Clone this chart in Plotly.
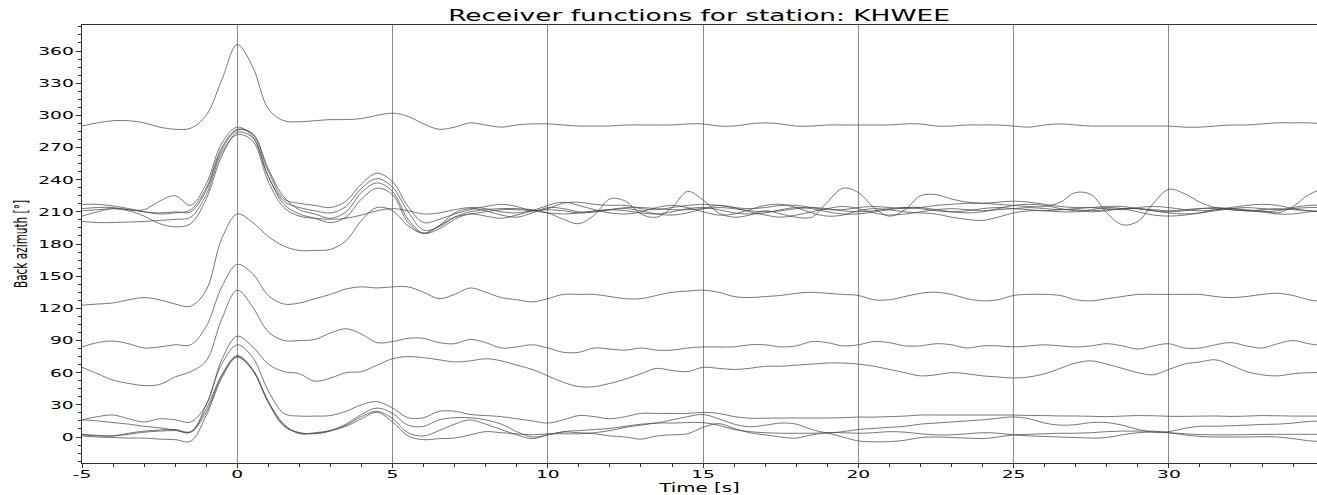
import numpy as np
import plotly.graph_objects as go

# time axis (s), 0.5 s sampling
time_s = np.arange(-5.0, 35.01, 0.5)

# plotted trace values (back azimuth baseline + receiver-function amplitude)
rf_292 = [290, 293, 295, 295, 293, 289, 287, 288,
          300, 333, 366, 345, 306, 295,
          294, 295, 296, 296, 297, 300,
          302, 299, 292, 287, 289, 293, 291, 289, 291, 292,
          292, 291, 290, 290, 290, 291, 291, 291, 291, 292,
          292, 290, 290, 292, 293, 292, 290, 290, 291, 291,
          291, 291, 291, 292, 292, 290, 290, 291, 291, 291,
          290, 289, 291, 292, 291, 290, 290, 290, 290, 290,
          290, 289, 289, 290, 291, 291, 292, 293, 293, 293,
          292]
rf_217 = [217, 217, 215.5, 213, 210, 208, 209, 212,
          232, 270, 287, 282, 248, 222,
          218, 216, 214, 220, 236, 246,
          238, 215, 200, 203, 208, 212, 215, 217, 215, 211,
          213, 218, 219, 217, 216, 216, 213, 212, 214, 216,
          217, 216, 214, 213, 214, 216, 216, 214, 212, 212,
          214, 215, 214, 213, 214, 216, 217, 218, 218, 219,
          220, 219, 217, 215, 214, 214, 213, 212, 214, 215,
          214, 212, 211, 212, 214, 216, 217, 216, 213, 211,
          210]
rf_213 = [213, 214, 214, 212, 212, 220, 225, 216,
          236, 274, 289, 280, 243, 220,
          214, 211, 209, 215, 232, 241,
          233, 210, 193, 196, 205, 210, 212, 213, 213, 212,
          209, 203, 199, 207, 222, 220, 208, 205, 214, 229,
          221, 209, 205, 207, 211, 208, 205, 205, 219, 232,
          228, 214, 206, 212, 225, 226, 222, 219, 218, 217,
          216, 215, 215, 219, 228, 226, 209, 198, 201, 218,
          231, 227, 219, 214, 212, 211, 211, 209, 215, 226,
          232]
rf_211 = [211, 212, 213, 212, 210, 209, 210, 210,
          230, 268, 286, 283, 250, 224,
          212, 208, 204, 210, 228, 237,
          229, 203, 190, 194, 203, 208, 206, 204, 207, 211,
          216, 219, 216, 212, 209, 208, 210, 214, 216, 214,
          210, 207, 208, 212, 216, 217, 214, 209, 206, 207,
          211, 213, 212, 210, 209, 208, 205, 203, 202, 205,
          209, 211, 211, 210, 210, 212, 214, 213, 210, 207,
          206, 207, 209, 212, 213, 212, 210, 208, 208, 210,
          211]
rf_206 = [206, 210, 213, 211, 206, 199, 196, 199,
          222, 262, 284, 279, 243, 217,
          208, 204, 200, 205, 222, 232,
          226, 200, 190, 197, 209, 213, 211, 207, 205, 209,
          214, 213, 210, 210, 212, 213, 211, 208, 207, 209,
          213, 216, 214, 210, 207, 205, 207, 210, 213, 215,
          213, 209, 207, 208, 210, 212, 213, 212, 211, 212,
          213, 214, 213, 212, 213, 214, 215, 215, 213, 211,
          209, 208, 209, 211, 213, 214, 213, 212, 213, 214,
          214]
rf_201 = [201, 200, 200, 200.5, 201, 202, 203, 205,
          226, 265, 282, 276, 238, 214,
          206, 204, 203, 204, 207, 211,
          213, 211, 208, 209, 212, 214, 213, 210, 209, 211,
          212, 211, 209, 210, 212, 214, 214, 213, 212, 212,
          213, 214, 213, 211, 210, 211, 213, 214, 213, 211,
          210, 211, 213, 214, 213, 211, 210, 211, 213, 214,
          213, 212, 211, 212, 212, 211, 212, 213, 213, 212,
          211, 212, 213, 213, 212, 211, 212, 213, 212, 211,
          210]
rf_124 = [123, 124, 125, 128, 130, 128, 124, 122,
          137, 185, 208, 200, 187, 178,
          174, 174, 175, 183, 202, 214,
          211, 197, 190, 197, 205, 208, 210, 212, 212, 211,
          209, 208, 209, 211, 212, 211, 209, 208, 210, 213,
          214, 212, 209, 208, 209, 212, 214, 213, 210, 208,
          208, 210, 212, 214, 214, 212, 210, 209, 210, 213,
          216, 217, 216, 213, 211, 210, 211, 213, 213, 211,
          210, 211, 213, 214, 213, 211, 210, 211, 214, 216,
          216]
rf_85 = [84, 88, 89.5, 87, 83, 84, 86, 86,
         103, 140, 161, 152, 132, 124,
         125, 129, 133, 138, 140, 139,
         140, 140, 135, 129, 133, 139, 135, 130, 128, 126,
         129, 133, 133, 133, 131, 129, 129, 132, 135, 136,
         137, 135, 131, 130, 131, 132, 134, 135, 134, 133,
         132, 128, 128, 131, 134, 135, 133, 129, 127, 128,
         132, 133, 133, 132, 128, 127, 129, 131, 133, 133,
         133, 133, 133, 131, 130, 131, 133, 134, 132, 128,
         126]
rf_60 = [65, 59, 53, 50, 48, 49, 56, 61,
         71, 110, 137, 121, 98, 90,
         90, 91, 97, 101, 96, 88,
         89, 92, 92, 88, 87, 91, 88, 83, 84, 86,
         83, 79, 79, 83, 82, 81, 83, 81, 81, 83,
         84, 84, 84, 86, 86, 84, 85, 89, 88, 85,
         86, 89, 88, 85, 85, 87, 86, 83, 85, 85,
         84, 85, 86, 85, 84, 85, 87, 85, 82, 85,
         87, 83, 83, 86, 88, 85, 83, 87, 90, 87,
         85]
rf_17 = [16, 19, 20.5, 17, 14, 17, 16, 14,
         30, 72, 94, 84, 68, 61,
         59, 52, 55, 60, 61, 67,
         73, 75, 74, 72, 70, 71, 73, 71, 67, 63,
         57, 51, 47, 47, 50, 54, 59, 64, 62, 61,
         65, 64, 63, 64, 66, 66, 67, 68, 69, 69,
         68, 66, 63, 60, 57, 58, 60, 59, 57, 56,
         55, 56, 59, 64, 69, 71, 68, 64, 60, 58,
         63, 68, 70, 72, 67, 61, 58, 57, 59, 60,
         60]
rf_16 = [16, 15, 13.5, 12, 10, 8.5, 6.5, 4.5,
         30, 68, 86, 74, 43, 22,
         19.5, 19.5, 20, 24, 30, 33,
         27, 18, 18, 24, 24, 21, 20, 19, 17, 15,
         13, 16, 20, 19, 17, 19, 22, 22, 22, 22,
         23, 22, 19, 17.5, 17.5, 17.7, 17.7, 17.7, 17.7, 18,
         18.6, 18.5, 19, 19.5, 20.5, 20.5, 20.5, 20.5, 20.5, 20.5,
         20.5, 20, 20, 19.6, 19.6, 19.3, 19, 19.5, 20, 19.8,
         19.3, 19.2, 19.5, 19.6, 19.2, 19.5, 20, 19.8, 19.5, 19.5,
         19.5]
rf_3 = [2, 1, 1, 3.5, 5.5, 6.5, 7, 5,
        26, 58, 76, 63, 33, 11,
        4, 3.5, 6, 12, 21, 27,
        22, 11, 10, 16, 18, 18, 16, 12, 5, 0,
        2, 5, 6, 7, 8, 10, 12, 13, 16, 19,
        21, 17, 12, 9.6, 11, 13, 12, 7, 4, 5,
        7, 8, 9, 10, 12, 13, 14, 15, 16, 17.5,
        18.7, 17, 13, 11, 11.5, 13.5, 13.5, 11, 7, 4.6,
        5, 8, 10, 10, 10.5, 11, 11.7, 12, 13, 14.5,
        15]
rf_1 = [1, 0, -0.5, -1, -1, -2, -2.5, -4,
        20, 55, 75, 62, 32, 10,
        4, 3, 5.5, 11, 19, 24,
        17, 4, 1, 6, 12, 16, 12, 7, 2, -1.5,
        2, 4.6, 4, 3, 1, 0, -2, 1, 2, 3,
        9, 12.5, 8, 4, 2, 0, -1, 2, 4, 4,
        3.5, 4, 5, 4.5, 3, 2, 2, 3, 4, 3.5,
        2, 1, 0.5, 0, -0.5, -1, -0.5, 2, 4, 4.6,
        4, 3, 2.2, 2, 2, 2.2, 2.5, 2.5, 2.5, 2.5,
        2.5]
rf_2 = [2.5, 1.5, 1, 2.5, 4.5, 5.5, 6, 4.5,
        23, 57, 74.5, 62, 33, 12,
        3, 4, 6, 10, 17, 23,
        14, 1, -2.5, -1.5, -1, 2, 5, 4, 3, 2,
        3, 3, 3, 4, 6, 9, 11, 13, 13, 13.5,
        13.4, 11, 7, 5, 4, 3.5, 3.5, 3.5, 3.5, 0,
        -3.7, -4.5, -4.3, -3, -0.5, 0, -0.5, -1, -1.5, 0,
        2, 2.5, 3, 3.5, 3.5, 4, 5, 5.5, 5.5, 5.5,
        4, 2, 0.5, 0, 0, 0, 0.3, 0, -1.5, -3.5,
        -4.5]

traces = [rf_292, rf_217, rf_213, rf_211, rf_206, rf_201, rf_124,
          rf_85, rf_60, rf_17, rf_16, rf_3, rf_1, rf_2]

y_ticks = list(range(0, 361, 30))
x_ticks = [-5, 0, 5, 10, 15, 20, 25, 30]

fig = go.Figure()
for tr in traces:
    assert len(tr) == len(time_s)
    fig.add_trace(go.Scatter(
        x=time_s, y=tr, mode="lines",
        line=dict(color="rgba(75,75,75,0.75)", width=1, shape="spline", smoothing=1.0),
        hoverinfo="skip", showlegend=False))

font_main = "DejaVu Sans, Verdana, sans-serif"
fig.update_layout(
    width=1317, height=495,
    margin=dict(l=82, r=0, t=25, b=32, autoexpand=False),
    paper_bgcolor="white", plot_bgcolor="white",
    title=dict(text="Receiver functions for station: KHWEE",
               x=699 / 1317, xref="container", y=1 - 15 / 495, yref="container",
               xanchor="center", yanchor="middle",
               font=dict(family=font_main, size=16, color="black")),
    showlegend=False,
)
fig.update_xaxes(
    range=[-5, 34.77], tickvals=x_ticks, ticktext=[str(v) for v in x_ticks],
    showgrid=True, gridcolor="#8c8c8c", gridwidth=1, automargin=False,
    zeroline=False, showline=True, linecolor="#333333", linewidth=1, mirror=True,
    ticks="outside", ticklen=4, tickcolor="#333333", ticklabelstandoff=-4,
    minor=dict(dtick=1, ticks="outside", ticklen=3, tickcolor="#333333", showgrid=False),
    tickfont=dict(family=font_main, size=11.3, color="black"),
    title=dict(text="Time [s]", standoff=6, font=dict(family=font_main, size=12, color="black")),
)
fig.update_yaxes(
    range=[-24.25, 384.25], tickvals=y_ticks, ticktext=[str(v) for v in y_ticks],
    showgrid=False, zeroline=False, showline=True, linecolor="#333333", linewidth=1,
    automargin=False,
    ticks="outside", ticklen=5, tickcolor="#333333",
    minor=dict(dtick=7.5, ticks="outside", ticklen=3, tickcolor="#333333", showgrid=False),
    tickfont=dict(family=font_main, size=11.3, color="black"),
    title=dict(text="Back azimuth [°]", standoff=22,
               font=dict(family=font_main, size=10.5, color="black")),
)

# the reference's lettering is horizontally stretched; widen the text glyphs the same way
post_js = """
(function(){
  var SX = 1.65;
  function apply(t, sx, sy){
    var cur = t.getAttribute('transform') || '';
    if (t.__rfDone === cur) return;
    var x = parseFloat(t.getAttribute('x')) || 0;
    var y = parseFloat(t.getAttribute('y')) || 0;
    var nt = cur + ' translate(' + x + ',' + y + ') scale(' + sx + ',' + sy + ') translate(' + (-x) + ',' + (-y) + ')';
    t.setAttribute('transform', nt);
    t.__rfDone = nt;
  }
  function run(){
    var gd = document.getElementById('{plot_id}');
    if (!gd) return;
    gd.querySelectorAll('g.xtick text, g.ytick text, text.gtitle, text.xtitle').forEach(function(t){ apply(t, SX, 1); });
    gd.querySelectorAll('text.ytitle').forEach(function(t){ apply(t, 1, SX); });
  }
  run();
  var gd = document.getElementById('{plot_id}');
  if (gd && gd.on) gd.on('plotly_afterplot', run);
  setTimeout(run, 50); setTimeout(run, 300);
})();
"""

fig.write_html("out.html", post_script=post_js)
